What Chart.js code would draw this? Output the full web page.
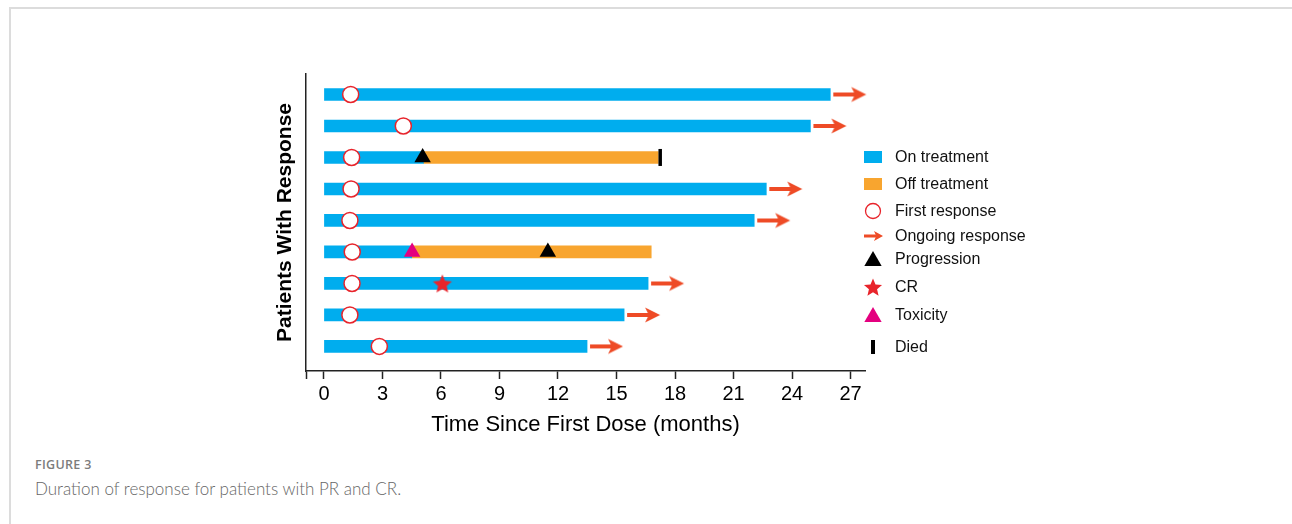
<!DOCTYPE html>
<html>
<head>
<meta charset="utf-8">
<script src="https://cdn.jsdelivr.net/npm/chart.js@4/dist/chart.umd.min.js"></script>
<style>
  body { margin: 0; background: #fff; width: 1292px; height: 524px; overflow: hidden; position: relative; font-family: "Liberation Sans", Arial, sans-serif; }
  .frame { position: absolute; left: 9px; top: 7px; right: -4px; bottom: -10px; border-top: 2px solid #dcdcdc; border-left: 2px solid #dcdcdc; }
  #wrap { position: absolute; left: 250px; top: 60px; width: 640px; height: 390px; }
  .item { position: absolute; left: 861px; height: 22px; display: flex; align-items: center; font-size: 16px; color: #111; white-space: nowrap; }
  .item canvas { width: 24px; height: 22px; margin-right: 10px; }
  .fig { position: absolute; left: 35px; top: 456px; font: 600 12.5px "Open Sans", sans-serif; color: #7c7c7c; letter-spacing: 0.3px; }
  .cap { position: absolute; left: 35px; top: 478px; font: 300 17px Lato, "Open Sans", sans-serif; color: #666; }
</style>
</head>
<body>
<div class="frame"></div>
<div id="wrap"><canvas id="dorChart"></canvas></div>
<div id="legend"></div>
<div class="fig">FIGURE 3</div>
<div class="cap">Duration of response for patients with PR and CR.</div>
<script>
// Une ligne par patient, de haut en bas (mois depuis la première dose)
const patients = ['1', '2', '3', '4', '5', '6', '7', '8', '9'];
const onStart = [0, 0, 0, 0, 0, 0, 0, 0, 0];
const onEnd = [25.96, 24.94, 5.1, 22.68, 22.06, 4.5, 16.62, 15.39, 13.49];
const offEnd = [null, null, 17.14, null, null, 16.78, null, null, null];
const firstResponse = [1.37, 4.07, 1.42, 1.39, 1.33, 1.45, 1.44, 1.33, 2.84];
const ongoing = [true, true, false, true, true, false, true, true, true];
const progression = [null, null, 5.06, null, null, 11.48, null, null, null];
const completeResponse = [null, null, null, null, null, null, 6.07, null, null];
const toxicity = [null, null, null, null, null, 4.52, null, null, null];
const died = [null, null, 17.24, null, null, null, null, null, null];
const xTicks = [0, 3, 6, 9, 12, 15, 18, 21, 24, 27];

const BLUE = '#00adee';
const ORANGE = '#f8a52f';
const RED = '#e8242b';
const ARROW = '#ee4b26';
const MAGENTA = '#e4007f';
const FONT = '"Liberation Sans", Arial, sans-serif';
const X_MIN = -0.92, X_MAX = 27.74;

// Petites fonctions de dessin, partagées entre le graphique et la légende
function drawStar(ctx, cx, cy, R, color) {
    const r = R * 0.45;
    ctx.beginPath();
    for (let k = 0; k < 10; k++) {
        const a = -Math.PI / 2 + k * Math.PI / 5;
        const rad = k % 2 === 0 ? R : r;
        ctx.lineTo(cx + Math.cos(a) * rad, cy + Math.sin(a) * rad);
    }
    ctx.closePath();
    ctx.fillStyle = color;
    ctx.fill();
}

function drawArrow(ctx, x0, x1, cy, shaft, headLen, headH, color) {
    ctx.fillStyle = color;
    ctx.fillRect(x0, cy - shaft / 2, x1 - x0 - headLen * 0.7, shaft);
    ctx.beginPath();
    ctx.moveTo(x1, cy);
    ctx.lineTo(x1 - headLen, cy - headH / 2);
    ctx.lineTo(x1 - headLen * 0.75, cy);
    ctx.lineTo(x1 - headLen, cy + headH / 2);
    ctx.closePath();
    ctx.fill();
}

function drawTriangle(ctx, cx, cy, r, color) {
    ctx.beginPath();
    for (let k = 0; k < 3; k++) {
        const a = -Math.PI / 2 + k * 2 * Math.PI / 3;
        ctx.lineTo(cx + Math.cos(a) * r, cy + Math.sin(a) * r);
    }
    ctx.closePath();
    ctx.fillStyle = color;
    ctx.fill();
}

function makeCanvas(w, h, draw) {
    const c = document.createElement('canvas');
    c.width = w;
    c.height = h;
    draw(c.getContext('2d'), w, h);
    return c;
}

// Images utilisées comme pointStyle
const starImg = makeCanvas(22, 22, (ctx) => drawStar(ctx, 11, 12, 10, RED));
// La flèche démarre au centre de l'image : le point se place à la fin de la barre
const arrowImg = makeCanvas(76, 18, (ctx) => drawArrow(ctx, 41, 74, 9, 4, 15, 15, ARROW));

const pts = (arr) => arr.map((v, i) => v == null ? null : { x: v, y: i }).filter(p => p);

const onData = onEnd.map((e, i) => ({ x: [onStart[i], e], y: i }));
const offData = offEnd.map((e, i) => e == null ? null : { x: [onEnd[i], e], y: i }).filter(p => p);
const arrowData = ongoing.map((o, i) => o ? { x: offEnd[i] ?? onEnd[i], y: i } : null).filter(p => p);

const scatterBase = { type: 'scatter', clip: false, order: 1, pointBorderWidth: 0, pointHoverBorderWidth: 0 };

new Chart(document.getElementById('dorChart'), {
    type: 'bar',
    data: {
        datasets: [
            { label: 'On treatment', data: onData, backgroundColor: BLUE, barThickness: 12, grouped: false, order: 10 },
            { label: 'Off treatment', data: offData, backgroundColor: ORANGE, barThickness: 12, grouped: false, order: 10 },
            { ...scatterBase, label: 'First response', data: pts(firstResponse), pointStyle: 'circle', pointRadius: 8, pointHoverRadius: 8,
              pointBackgroundColor: '#fff', pointBorderColor: RED, pointBorderWidth: 1.5, pointHoverBorderWidth: 1.5 },
            { ...scatterBase, label: 'Ongoing response', data: arrowData, pointStyle: arrowImg, pointRadius: 8 },
            { ...scatterBase, label: 'Progression', data: pts(progression), pointStyle: 'triangle', pointRadius: 9.5, pointHoverRadius: 9.5, pointBackgroundColor: '#000' },
            { ...scatterBase, label: 'CR', data: pts(completeResponse), pointStyle: starImg, pointRadius: 10 },
            { ...scatterBase, label: 'Toxicity', data: pts(toxicity), pointStyle: 'triangle', pointRadius: 9.5, pointHoverRadius: 9.5, pointBackgroundColor: MAGENTA },
            { ...scatterBase, label: 'Died', data: pts(died), pointStyle: 'line', rotation: 90, pointRadius: 8.5, pointHoverRadius: 8.5,
              pointBorderColor: '#000', pointBorderWidth: 3.5, pointHoverBorderWidth: 3.5 }
        ]
    },
    options: {
        indexAxis: 'y',
        responsive: true,
        maintainAspectRatio: false,
        animation: false,
        layout: { padding: { left: 19, right: 25, top: 14, bottom: 8.4 } },
        plugins: {
            legend: { display: false },
            tooltip: { enabled: false }
        },
        scales: {
            x: {
                type: 'linear',
                min: X_MIN,
                max: X_MAX,
                afterBuildTicks: (s) => { s.ticks = [X_MIN, ...xTicks].map(v => ({ value: v })); },
                afterFit: (s) => { s.height = 70.6; },
                grid: { display: true, drawOnChartArea: false, drawTicks: true, tickLength: 8, color: '#222', tickWidth: 1.5 },
                border: { display: true, color: '#222', width: 1.5 },
                ticks: {
                    color: '#000', padding: 3, maxRotation: 0, autoSkip: false,
                    font: { family: FONT, size: 20 },
                    callback: (v) => xTicks.includes(v) ? String(v) : ''
                },
                title: { display: true, text: 'Time Since First Dose (months)', color: '#000', font: { family: FONT, size: 22 }, padding: { top: 4, bottom: 3 } }
            },
            y: {
                type: 'linear',
                reverse: true,
                offset: false,
                min: -0.65,
                max: 8.78,
                afterFit: (s) => { s.width = 37; },
                grid: { display: false, offset: false },
                border: { display: true, color: '#222', width: 1.5 },
                ticks: { display: false },
                title: { display: true, text: 'Patients With Response', color: '#000', font: { family: FONT, size: 21, weight: 'bold' }, padding: { top: 4, bottom: 4 } }
            }
        }
    }
});

// Légende à droite (texte réel dans le DOM)
const legendItems = [
    { text: 'On treatment', y: 157, draw: (c) => { c.fillStyle = BLUE; c.fillRect(3, 5, 18, 12); } },
    { text: 'Off treatment', y: 184, draw: (c) => { c.fillStyle = ORANGE; c.fillRect(3, 5, 18, 12); } },
    { text: 'First response', y: 211, draw: (c) => { c.beginPath(); c.arc(12, 11, 7.5, 0, Math.PI * 2); c.strokeStyle = RED; c.lineWidth = 1.3; c.stroke(); } },
    { text: 'Ongoing response', y: 236, draw: (c) => drawArrow(c, 3, 22, 11, 3, 9, 10, ARROW) },
    { text: 'Progression', y: 259, draw: (c) => drawTriangle(c, 12, 13, 10, '#000') },
    { text: 'CR', y: 287, draw: (c) => drawStar(c, 12, 12, 9.5, RED) },
    { text: 'Toxicity', y: 315, draw: (c) => drawTriangle(c, 12, 13, 10, MAGENTA) },
    { text: 'Died', y: 347, draw: (c) => { c.fillStyle = '#000'; c.fillRect(10, 4, 4, 14); } }
];
const legendEl = document.getElementById('legend');
legendItems.forEach(item => {
    const row = document.createElement('div');
    row.className = 'item';
    row.style.top = (item.y - 11) + 'px';
    row.appendChild(makeCanvas(24, 22, item.draw));
    const label = document.createElement('span');
    label.textContent = item.text;
    row.appendChild(label);
    legendEl.appendChild(row);
});
</script>
</body>
</html>
